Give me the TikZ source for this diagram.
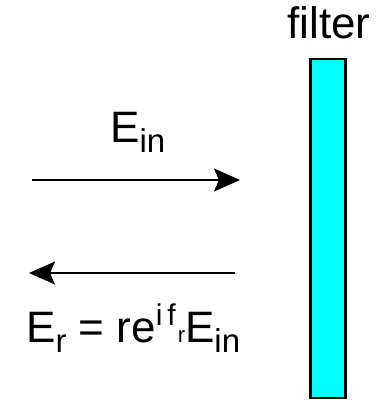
\documentclass[tikz,border=0pt]{standalone}
\usepackage{fontspec}
\setmainfont{Liberation Sans}
\usetikzlibrary{arrows.meta}
\definecolor{filtercyan}{RGB}{0,255,255}
\newcommand\mysub[1]{\raisebox{-10pt}{\fontsize{33}{33}\selectfont #1}}
\newcommand\mysup[1]{\raisebox{17pt}{\fontsize{30}{30}\selectfont #1}}
\newcommand\mysubsub[1]{{\fontsize{22}{22}\selectfont #1}}
\begin{document}
\begin{tikzpicture}[x=1pt,y=-1pt,
  lbl/.style={inner sep=0pt,font=\fontsize{44}{44}\selectfont},
  beam/.style={line width=2.2pt,-{Stealth[length=26pt,width=23pt,inset=5pt]}}]
\useasboundingbox (0,0) rectangle (386,400);
\node[draw,line width=2.5pt,fill=filtercyan,minimum width=35pt,minimum height=339pt,inner sep=0pt] (filter) at (328,228.5) {};
\node[lbl,anchor=base] (flabel) at (329,38) {filter};
\coordinate (a1s) at (32,180);
\coordinate (a1e) at (240,180);
\draw[beam] (a1s) -- (a1e);
\node[lbl,anchor=base west] (ein) at (110,142) {E\mysub{in}};
\coordinate (a2s) at (235,273);
\coordinate (a2e) at (29,273);
\draw[beam] (a2s) -- (a2e);
\node[lbl,anchor=base west] (er) at (26,342) {E\mysub{r} = re\mysup{i\,f\kern2pt}\mysubsub{r}E\mysub{in}};
\end{tikzpicture}
\end{document}
